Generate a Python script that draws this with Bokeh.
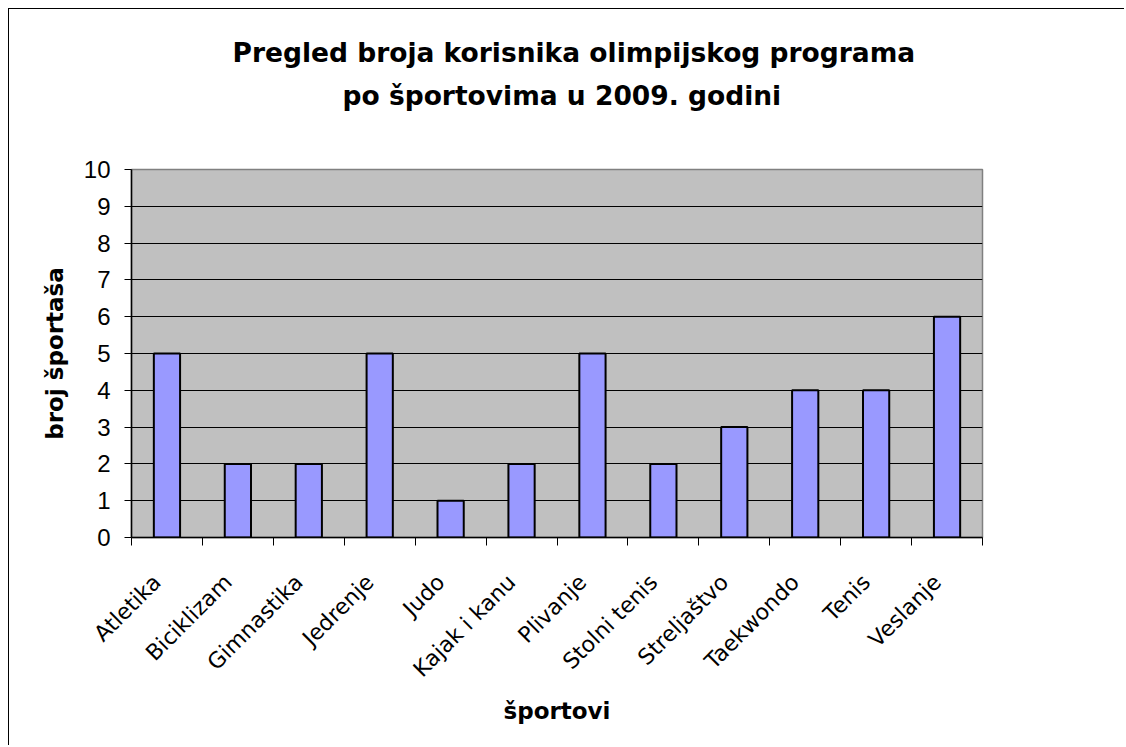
import math
from bokeh.plotting import figure
from bokeh.models import Range1d, FixedTicker, Title
from bokeh.embed import file_html
from bokeh.resources import INLINE

sports = ["Atletika", "Biciklizam", "Gimnastika", "Jedrenje", "Judo", "Kajak i kanu",
          "Plivanje", "Stolni tenis", "Streljaštvo", "Taekwondo", "Tenis", "Veslanje"]
athletes = [5, 2, 2, 5, 1, 2, 5, 2, 3, 4, 4, 6]
y_ticks = list(range(0, 11))
title_lines = ["Pregled broja korisnika olimpijskog programa", "po športovima u 2009. godini"]

W, H = 1116, 737
p = figure(width=W, height=H, x_range=Range1d(0, len(sports)), y_range=Range1d(0, 10),
           output_backend="svg", toolbar_location=None, title=None,
           min_border_left=122, min_border_right=143, min_border_top=160, min_border_bottom=209)

p.styles = {"margin-left": "8px", "margin-top": "8px",
            "border-left": "1px solid black", "border-top": "1px solid black"}
p.background_fill_color = "#C0C0C0"
p.border_fill_color = "white"
p.outline_line_color = "#808080"
p.outline_line_width = 1.5

centers = [i + 0.5 for i in range(len(sports))]
p.vbar(x=centers, top=athletes, width=0.37, fill_color="#9999FF",
       line_color="black", line_width=2)

# grid
p.xgrid.grid_line_color = None
p.ygrid.grid_line_color = "black"
p.ygrid.grid_line_width = 1
p.ygrid.ticker = FixedTicker(ticks=y_ticks)

# y axis
p.yaxis.ticker = FixedTicker(ticks=y_ticks)
p.yaxis.axis_line_color = "black"
p.yaxis.axis_line_width = 1.5
p.yaxis.major_tick_line_color = "black"
p.yaxis.major_tick_out = 7
p.yaxis.major_tick_in = 0
p.yaxis.minor_tick_line_color = None
p.yaxis.major_label_text_font = "Liberation Sans"
p.yaxis.major_label_text_font_size = "24px"
p.yaxis.major_label_text_color = "black"
p.yaxis.major_label_standoff = 14
p.yaxis.axis_label = "broj športaša"
p.yaxis.axis_label_text_font = "DejaVu Sans"
p.yaxis.axis_label_text_font_style = "bold"
p.yaxis.axis_label_text_font_size = "23px"
p.yaxis.axis_label_text_color = "black"
p.yaxis.axis_label_standoff = 13

# x axis (labels end slightly left of the category centre, as in the original)
p.xaxis.ticker = FixedTicker(ticks=centers, minor_ticks=list(range(len(sports) + 1)))
p.xaxis.major_label_overrides = {c: s + "\u00a0\u00a0" for c, s in zip(centers, sports)}
p.xaxis.major_label_orientation = math.pi / 4
p.xaxis.axis_line_color = "black"
p.xaxis.axis_line_width = 1.5
p.xaxis.major_tick_line_color = None
p.xaxis.major_tick_out = 0
p.xaxis.major_tick_in = 0
p.xaxis.minor_tick_line_color = "black"
p.xaxis.minor_tick_out = 8
p.xaxis.minor_tick_in = 0
p.xaxis.major_label_text_font = "DejaVu Sans"
p.xaxis.major_label_text_font_size = "22px"
p.xaxis.major_label_text_color = "black"
p.xaxis.major_label_standoff = 23
p.xaxis.axis_label = "športovi"
p.xaxis.axis_label_text_font = "DejaVu Sans"
p.xaxis.axis_label_text_font_style = "bold"
p.xaxis.axis_label_text_font_size = "23px"
p.xaxis.axis_label_text_color = "black"
p.xaxis.axis_label_standoff = 4

# spacer between the frame and the two title lines
spacer = Title(text=" ", text_font_size="1px", standoff=56)
t2 = Title(text=title_lines[1], align="left", offset=211, text_font="DejaVu Sans",
           text_font_size="26.5px", text_font_style="bold", text_color="black", standoff=0)
t1 = Title(text=title_lines[0], align="left", offset=101, text_font="DejaVu Sans",
           text_font_size="26.5px", text_font_style="bold", text_color="black", standoff=20)
p.add_layout(spacer, "above")
p.add_layout(t2, "above")
p.add_layout(t1, "above")

open("out.html", "w").write(file_html(p, INLINE))
